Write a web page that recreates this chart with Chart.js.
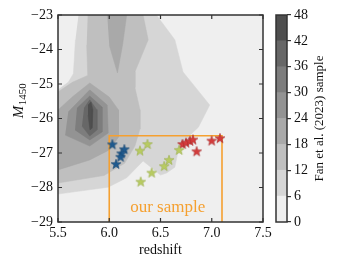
<!DOCTYPE html>
<html>
<head>
<meta charset="utf-8">
<script src="https://cdn.jsdelivr.net/npm/chart.js@4.4.0/dist/chart.umd.min.js"></script>
<style>
  html, body { margin: 0; padding: 0; background: #fff; }
  #wrap { position: relative; width: 339px; height: 269px; }
  canvas { position: absolute; left: 0; top: 0; }
</style>
</head>
<body>
<div id="wrap">
  <canvas id="main" width="339" height="269"></canvas>
  <canvas id="cbar" width="339" height="269"></canvas>
</div>
<script>
Chart.defaults.font.family = "'Liberation Serif', 'DejaVu Serif', serif";
Chart.defaults.font.size = 14;
Chart.defaults.color = '#111';

// ticks
var xTicks = [5.5, 6.0, 6.5, 7.0, 7.5];
var yTicks = [-23, -24, -25, -26, -27, -28, -29];
var cbarTicks = [0, 6, 12, 18, 24, 30, 36, 42, 48];

// contour fill colours, one per level band (0-6, 6-12, ... 42-48)
var levelColors = ['#efefef', '#d6d6d6', '#bfbfbf', '#a9a9a9', '#939393', '#7d7d7d', '#676767', '#4f4f4f'];

// contour outlines [redshift, M1450]
var lev0 = [[5.5, -23], [7.5, -23], [7.5, -29], [5.5, -29]];
var lev1 = [[5.70, -23], [6.46, -23], [6.64, -23.72], [6.72, -24.65], [6.98, -25.61], [6.87, -26.25],
            [6.79, -26.48], [6.67, -26.97], [6.64, -27.41], [6.56, -27.58], [6.50, -27.64], [6.33, -27.23],
            [6.17, -27.72], [5.99, -27.99], [5.5, -28.19], [5.5, -25.17], [5.60, -24.95], [5.65, -24.70],
            [5.67, -23.72]];
var lev2 = [[5.79, -23], [6.33, -23], [6.38, -23.72], [6.25, -24.65], [6.25, -25.10], [6.30, -25.75],
            [6.30, -26.30], [6.25, -26.80], [6.15, -27.30], [5.95, -27.65], [5.5, -27.87], [5.5, -25.23],
            [5.64, -24.95], [5.79, -24.75], [5.78, -23.87]];
var lev3a = [[5.98, -23], [6.17, -23], [6.13, -23.87], [6.08, -24.68], [6.00, -23.87]];
var lev3b = [[5.5, -25.75], [5.65, -25.35], [5.81, -24.97], [6.00, -25.38], [6.09, -25.75], [6.09, -26.54],
             [6.00, -26.91], [5.81, -27.20], [5.5, -27.49]];
var lev4 = [[5.60, -25.81], [5.81, -25.17], [5.98, -25.61], [5.99, -26.42], [5.81, -26.80], [5.57, -26.48]];
var lev5 = [[5.685, -25.70], [5.81, -25.35], [5.93, -25.67], [5.93, -26.39], [5.81, -26.62], [5.666, -26.33]];
var lev6 = [[5.754, -25.70], [5.81, -25.46], [5.88, -25.75], [5.88, -26.33], [5.81, -26.51], [5.734, -26.22]];
var lev7 = [[5.793, -25.61], [5.822, -25.52], [5.841, -25.75], [5.832, -26.28], [5.812, -26.33], [5.793, -25.90]];

var contours = [[lev0, 0], [lev1, 1], [lev2, 2], [lev3a, 3], [lev3b, 3], [lev4, 4], [lev5, 5], [lev6, 6], [lev7, 7]];

// our sample
var blueZ = [6.03, 6.147, 6.12, 6.11, 6.066];
var blueM = [-26.75, -26.89, -27.01, -27.11, -27.32];
var greenZ = [6.30, 6.373, 6.307, 6.414, 6.536, 6.583, 6.682];
var greenM = [-26.93, -26.74, -27.83, -27.57, -27.38, -27.20, -26.91];
var redZ = [6.715, 6.749, 6.788, 6.817, 6.853, 6.999, 7.080];
var redM = [-26.74, -26.70, -26.65, -26.61, -26.95, -26.64, -26.57];

// selection box
var boxZ = [6.0, 6.0, 7.1, 7.1];
var boxM = [-29, -26.5, -26.5, -29];

function pts(xs, ys) {
  return xs.map(function (x, i) { return { x: x, y: ys[i] }; });
}

function starImg(fill, edge) {
  var c = document.createElement('canvas');
  c.width = 12; c.height = 12;
  var g = c.getContext('2d');
  g.beginPath();
  for (var k = 0; k < 10; k++) {
    var r = k % 2 ? 2.1 : 5.2;
    var a = -Math.PI / 2 + k * Math.PI / 5;
    g.lineTo(6 + r * Math.cos(a), 6.4 + r * Math.sin(a));
  }
  g.closePath();
  g.fillStyle = fill;
  g.fill();
  g.lineWidth = 0.6;
  g.strokeStyle = edge;
  g.stroke();
  return c;
}

var datasets = [];
function starSet(xs, ys, fill, edge) {
  datasets.push({ data: pts(xs, ys), pointStyle: starImg(fill, edge), pointRadius: 6, showLine: false, order: 1 });
}
starSet(blueZ, blueM, '#1f5a8f', '#174770');
starSet(greenZ, greenM, '#b8cb62', '#9aae4c');
starSet(redZ, redM, '#d43c3c', '#a82d2d');

datasets.push({
  data: pts(boxZ, boxM), showLine: true, borderColor: '#f5a030', borderWidth: 1.6,
  pointRadius: 0, tension: 0, fill: false, order: 2
});

contours.forEach(function (c, i) {
  datasets.push({
    data: c[0].map(function (p) { return { x: p[0], y: p[1] }; }),
    showLine: true, fill: 'shape', backgroundColor: levelColors[c[1]],
    borderColor: levelColors[c[1]], borderWidth: 0.5, pointRadius: 0, tension: 0,
    order: 100 - i
  });
});

var frame = {
  id: 'frame',
  afterDatasetsDraw: function (chart) {
    var a = chart.chartArea, ctx = chart.ctx, sx = chart.scales.x, sy = chart.scales.y;
    ctx.save();
    ctx.strokeStyle = '#333';
    ctx.lineWidth = 1.2;
    ctx.beginPath();
    xTicks.forEach(function (v) {
      var p = sx.getPixelForValue(v);
      ctx.moveTo(p, a.bottom); ctx.lineTo(p, a.bottom - 4);
      ctx.moveTo(p, a.top); ctx.lineTo(p, a.top + 4);
    });
    yTicks.forEach(function (v) {
      var p = sy.getPixelForValue(v);
      ctx.moveTo(a.left, p); ctx.lineTo(a.left + 4, p);
      ctx.moveTo(a.right, p); ctx.lineTo(a.right - 4, p);
    });
    ctx.stroke();
    ctx.lineWidth = 1.5;
    ctx.strokeRect(a.left, a.top, a.right - a.left, a.bottom - a.top);

    // label inside the box
    ctx.fillStyle = '#f5a030';
    ctx.font = "17px 'Liberation Serif', serif";
    ctx.textAlign = 'center';
    ctx.textBaseline = 'alphabetic';
    ctx.fillText('our sample', sx.getPixelForValue(6.57), sy.getPixelForValue(-28.72));

    // y axis title M_1450
    ctx.fillStyle = '#111';
    ctx.translate(18, 101);
    ctx.rotate(-Math.PI / 2);
    ctx.textAlign = 'left';
    ctx.font = "italic 15px 'Liberation Serif', serif";
    var wM = ctx.measureText('M').width;
    ctx.font = "11px 'Liberation Serif', serif";
    var wS = ctx.measureText('1450').width;
    var x0 = -(wM + wS) / 2;
    ctx.font = "italic 15px 'Liberation Serif', serif";
    ctx.fillText('M', x0, 5);
    ctx.font = "11px 'Liberation Serif', serif";
    ctx.fillText('1450', x0 + wM + 0.5, 8);
    ctx.restore();
  }
};

new Chart(document.getElementById('main'), {
  type: 'scatter',
  data: { datasets: datasets },
  options: {
    responsive: false,
    animation: false,
    layout: { padding: { top: 15, right: 76, left: 0, bottom: 0 } },
    plugins: { legend: { display: false }, tooltip: { enabled: false } },
    scales: {
      x: {
        min: 5.5, max: 7.5,
        afterBuildTicks: function (s) { s.ticks = xTicks.map(function (v) { return { value: v }; }); },
        ticks: { callback: function (v) { return v.toFixed(1); }, padding: 3, maxRotation: 0, autoSkip: false },
        grid: { display: true, drawOnChartArea: false, drawTicks: false },
        border: { display: false },
        title: { display: true, text: 'redshift', padding: { top: 0, bottom: 10 } },
        afterFit: function (s) { s.height = 47; }
      },
      y: {
        min: -29, max: -23,
        afterBuildTicks: function (s) { s.ticks = yTicks.map(function (v) { return { value: v }; }); },
        ticks: { callback: function (v) { return '\u2212' + Math.abs(v); }, padding: 5, autoSkip: false },
        grid: { display: true, drawOnChartArea: false, drawTicks: false },
        border: { display: false },
        afterFit: function (s) { s.width = 58; }
      }
    }
  },
  plugins: [frame]
});

// colour bar
var cbFrame = {
  id: 'cbFrame',
  afterDraw: function (chart) {
    var a = chart.chartArea, ctx = chart.ctx;
    ctx.save();
    ctx.strokeStyle = '#333';
    ctx.lineWidth = 1.5;
    ctx.strokeRect(a.left, a.top, a.right - a.left, a.bottom - a.top);
    ctx.fillStyle = '#111';
    ctx.font = "13px 'Liberation Serif', serif";
    ctx.translate(320, (a.top + a.bottom) / 2);
    ctx.rotate(-Math.PI / 2);
    ctx.textAlign = 'center';
    ctx.textBaseline = 'middle';
    ctx.fillText('Fan et al. (2023) sample', 0, 0);
    ctx.restore();
  }
};

new Chart(document.getElementById('cbar'), {
  type: 'bar',
  data: {
    labels: [''],
    datasets: levelColors.map(function (col, i) {
      return {
        data: [[cbarTicks[i], cbarTicks[i + 1]]], backgroundColor: col,
        barPercentage: 1, categoryPercentage: 1, borderWidth: 0, grouped: false
      };
    })
  },
  options: {
    responsive: false,
    animation: false,
    layout: { padding: { top: 15, right: 0, left: 276, bottom: 47 } },
    plugins: { legend: { display: false }, tooltip: { enabled: false } },
    scales: {
      x: { display: false },
      y: {
        position: 'right', min: 0, max: 48,
        afterBuildTicks: function (s) { s.ticks = cbarTicks.map(function (v) { return { value: v }; }); },
        ticks: { padding: 3, autoSkip: false },
        grid: { drawOnChartArea: false, tickLength: 4, color: '#333', lineWidth: 1.2 },
        border: { display: false },
        afterFit: function (s) { s.width = 52; }
      }
    }
  },
  plugins: [cbFrame]
});
</script>
</body>
</html>
